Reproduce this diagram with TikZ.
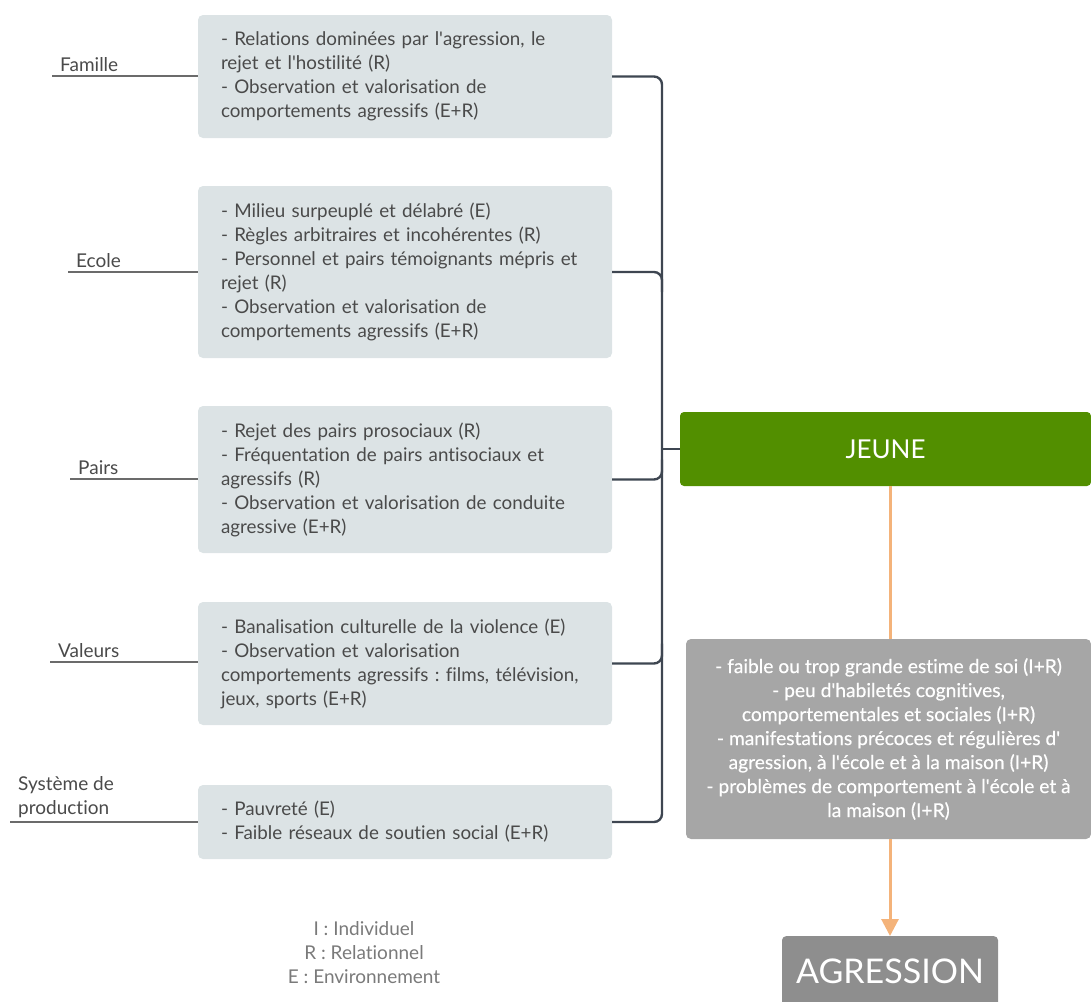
\documentclass[tikz,border=0pt]{standalone}
\usepackage{fontspec}
\setmainfont{Lato}[Ligatures=NoCommon]
\usetikzlibrary{arrows.meta,calc}
\frenchspacing
\newcommand{\apos}{\textquotesingle}
\definecolor{boxfill}{HTML}{DCE3E5}
\definecolor{boxtext}{HTML}{4A4A4A}
\definecolor{bus}{HTML}{3E4651}
\definecolor{lblline}{HTML}{6B6B6B}
\definecolor{jeunegreen}{HTML}{528F00}
\definecolor{greybox}{HTML}{A6A6A6}
\definecolor{agrbox}{HTML}{8E8E8E}
\definecolor{orangeline}{HTML}{F4B37A}
\definecolor{legendtext}{HTML}{7A7A7A}
\tikzset{
  factor/.style={fill=boxfill, rounded corners=5pt, minimum width=414pt, text width=368pt, align=left,
    inner xsep=23pt, text=boxtext, font=\fontsize{18.8}{24}\selectfont},
  lbl/.style={anchor=south west, inner xsep=8pt, inner ysep=4pt, text=boxtext, align=left,
    font=\fontsize{19}{24}\selectfont},
  lblconn/.style={draw=lblline, line width=1.3pt},
  busline/.style={draw=bus, line width=2.4pt, rounded corners=8pt},
  orangeconn/.style={draw=orangeline, line width=3pt}
}
\begin{document}
\begin{tikzpicture}[x=1pt,y=-1pt]
\useasboundingbox (0,0) rectangle (1091,1001);
% factor boxes
\node[factor, minimum height=123pt] (fam) at (405,76.5) {- Relations dominées par l\apos agression, le\\rejet et l\apos hostilité (R)\\- Observation et valorisation de\\comportements agressifs (E+R)};
\node[factor, minimum height=172pt] (eco) at (405,272) {- Milieu surpeuplé et délabré (E)\\- Règles arbitraires et incohérentes (R)\\- Personnel et pairs témoignants mépris et\\rejet (R)\\- Observation et valorisation de\\comportements agressifs (E+R)};
\node[factor, minimum height=147pt] (pai) at (405,479.5) {- Rejet des pairs prosociaux (R)\\- Fréquentation de pairs antisociaux et\\agressifs (R)\\- Observation et valorisation de conduite\\agressive (E+R)};
\node[factor, minimum height=123pt] (val) at (405,663.5) {- Banalisation culturelle de la violence (E)\\- Observation et valorisation\\comportements agressifs : films, télévision,\\jeux, sports (E+R)};
\node[factor, minimum height=74pt] (sys) at (405,822) {- Pauvreté (E)\\- Faible réseaux de soutien social (E+R)};
% labels
\node[lbl] (lfam) at (52,76) {Famille};
\node[lbl] (leco) at (68,272) {Ecole};
\node[lbl] (lpai) at (70,479) {Pairs};
\node[lbl] (lval) at (50,662) {Valeurs};
\node[lbl] (lsys) at (10,822) {Système de\\production};
\draw[lblconn] (lfam.south west) -- (fam.west |- lfam.south west);
\draw[lblconn] (leco.south west) -- (eco.west |- leco.south west);
\draw[lblconn] (lpai.south west) -- (pai.west |- lpai.south west);
\draw[lblconn] (lval.south west) -- (val.west |- lval.south west);
\draw[lblconn] (lsys.south west) -- (sys.west |- lsys.south west);
% JEUNE
\node[fill=jeunegreen, rounded corners=4pt, minimum width=411pt, minimum height=74pt, text=white,
  font=\fontsize{26}{30}\selectfont] (jeune) at (885.5,449) {JEUNE};
% bus
\coordinate (busx) at (662,0);
\draw[busline] (fam.east) -- (busx |- fam.east) -- (busx |- sys.east) -- (sys.east);
\draw[busline] (eco.east) -- (busx |- eco.east) -- ($(busx |- eco.east)+(0,20)$);
\draw[busline] (pai.east) -- (busx |- pai.east) -- ($(busx |- pai.east)+(0,-20)$);
\draw[busline] (val.east) -- (busx |- val.east) -- ($(busx |- val.east)+(0,-20)$);
\draw[draw=bus, line width=2.4pt] (busx |- jeune.west) -- (jeune.west);
% grey box
\node[fill=greybox, rounded corners=5pt, minimum width=405pt, minimum height=200pt, text=white, align=center,
  font=\fontsize{19.2}{24}\selectfont\addfontfeature{FakeBold=0.5}] (ind) at (888.5,739) {- faible ou trop grande estime de soi (I+R)\\- peu d\apos habiletés cognitives,\\comportementales et sociales (I+R)\\- manifestations précoces et régulières d\apos\\agression, à l\apos école et à la maison (I+R)\\- problèmes de comportement à l\apos école et à\\la maison (I+R)};
% AGRESSION
\node[fill=agrbox, rounded corners=4pt, minimum width=216pt, minimum height=80pt, text=white,
  font=\fontsize{34}{38}\selectfont, anchor=north] (agr) at (890,936) {\raisebox{10pt}{AGRESSION}};
% orange connectors
\draw[orangeconn] (jeune.south -| 890,0) -- (ind.north -| 890,0);
\draw[orangeconn, -{Triangle[length=17pt,width=17pt]}] (ind.south -| 890,0) -- (agr.north);
% legend
\node[text=legendtext, align=center, font=\fontsize{19}{24}\selectfont] (leg) at (364,953) {I : Individuel\\R : Relationnel\\E : Environnement};
\end{tikzpicture}
\end{document}
